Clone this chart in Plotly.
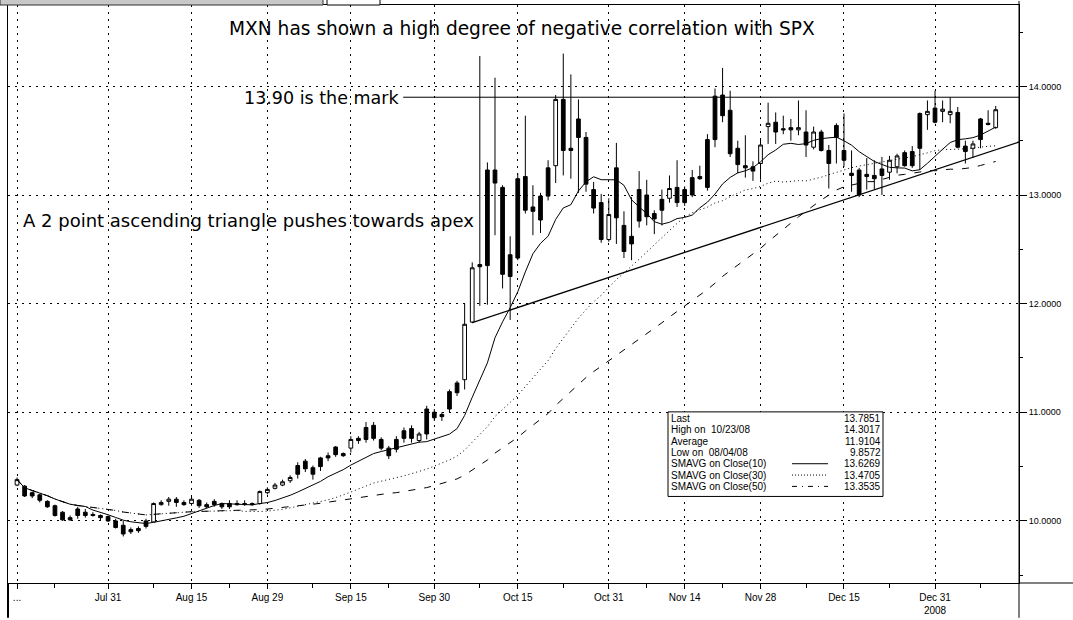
import plotly.graph_objects as go
import pandas as pd

# ---------------- data ----------------
dates = pd.bdate_range("2008-07-15", "2009-01-12")

opens = [
    10.33, 10.32, 10.26, 10.24, 10.18, 10.14, 10.08, 10.03, 10.11, 10.08,
    10.06, 10.05, 10.04, 10.00, 9.96, 9.92, 9.93, 10.00, 9.99, 10.15,
    10.18, 10.20, 10.17, 10.16, 10.19, 10.15, 10.18, 10.16, 10.16, 10.16,
    10.16, 10.16, 10.16, 10.26, 10.30, 10.33, 10.37, 10.51, 10.55, 10.49,
    10.58, 10.60, 10.68, 10.62, 10.67, 10.76, 10.86, 10.88, 10.75, 10.67,
    10.75, 10.83, 10.85, 10.74, 11.03, 11.00, 10.98, 11.19, 11.27, 11.30,
    11.83, 12.36, 13.23, 13.23, 13.07, 12.45, 13.15, 13.17, 12.89, 12.99,
    13.25, 13.27, 13.88, 13.43, 13.70, 13.53, 13.05, 12.93, 12.59, 13.25,
    12.72, 12.62, 13.05, 13.00, 12.83, 12.96, 12.97, 13.07, 13.05, 13.16,
    13.17, 13.51, 13.91, 13.92, 13.78, 13.43, 13.27, 13.26, 13.29, 13.63,
    13.67, 13.61, 13.62, 13.60, 13.58, 13.44, 13.58, 13.41, 13.64, 13.41,
    13.20, 13.23, 13.19, 13.18, 13.24, 13.21, 13.26, 13.39, 13.40, 13.75,
    13.74, 13.80, 13.77, 13.74, 13.76, 13.45, 13.43, 13.70, 13.66, 13.62,
]
highs = [
    10.40, 10.33, 10.27, 10.25, 10.19, 10.15, 10.09, 10.05, 10.13, 10.11,
    10.08, 10.06, 10.05, 10.02, 10.00, 9.94, 9.95, 10.02, 10.17, 10.19,
    10.22, 10.22, 10.19, 10.22, 10.20, 10.17, 10.20, 10.17, 10.19, 10.19,
    10.19, 10.17, 10.28, 10.31, 10.35, 10.38, 10.42, 10.54, 10.57, 10.51,
    10.59, 10.63, 10.69, 10.63, 10.78, 10.78, 10.91, 10.91, 10.77, 10.69,
    10.78, 10.86, 10.88, 10.82, 11.06, 11.03, 11.00, 11.21, 11.29, 12.00,
    12.38, 14.28, 13.30, 14.08, 13.09, 12.62, 13.20, 13.73, 13.09, 13.02,
    13.32, 13.92, 14.3017, 14.11, 13.88, 13.58, 13.12, 13.01, 12.97, 13.48,
    12.85, 12.98, 13.22, 13.14, 12.86, 13.05, 13.18, 13.32, 13.08, 13.23,
    13.27, 13.56, 13.98, 14.17, 13.96, 13.50, 13.55, 13.31, 13.52, 13.85,
    13.76, 13.73, 13.70, 13.87, 13.78, 13.63, 13.60, 13.46, 13.66, 13.75,
    13.41, 13.25, 13.34, 13.32, 13.35, 13.36, 13.38, 13.41, 13.45, 13.76,
    13.87, 13.96, 13.87, 13.90, 13.81, 13.50, 13.50, 13.71, 13.78, 13.82,
]
lows = [
    10.32, 10.22, 10.21, 10.17, 10.12, 10.04, 10.00, 10.00, 10.02, 10.03,
    10.04, 10.00, 9.99, 9.93, 9.8572, 9.88, 9.89, 9.93, 9.99, 10.14,
    10.14, 10.13, 10.14, 10.14, 10.12, 10.12, 10.13, 10.11, 10.11, 10.14,
    10.14, 10.14, 10.15, 10.245, 10.29, 10.32, 10.35, 10.39, 10.45, 10.38,
    10.46, 10.55, 10.59, 10.59, 10.63, 10.71, 10.72, 10.74, 10.65, 10.57,
    10.63, 10.72, 10.72, 10.72, 10.75, 10.92, 10.92, 11.00, 11.15, 11.21,
    11.82, 11.98, 11.99, 12.63, 12.14, 11.85, 12.40, 12.83, 12.63, 12.65,
    12.95, 13.11, 13.18, 13.15, 13.02, 13.03, 12.83, 12.56, 12.57, 12.55,
    12.42, 12.40, 12.70, 12.72, 12.64, 12.72, 12.93, 12.89, 12.90, 12.98,
    13.14, 13.04, 13.44, 13.67, 13.35, 13.20, 13.16, 13.13, 13.14, 13.47,
    13.47, 13.56, 13.50, 13.55, 13.35, 13.42, 13.40, 13.06, 13.29, 13.26,
    13.03, 12.98, 13.05, 13.05, 13.00, 13.14, 13.20, 13.26, 13.25, 13.23,
    13.60, 13.66, 13.67, 13.66, 13.43, 13.29, 13.34, 13.43, 13.64, 13.61,
]
closes = [
    10.38, 10.23, 10.23, 10.19, 10.13, 10.05, 10.01, 10.01, 10.05, 10.05,
    10.05, 10.03, 10.00, 9.94, 9.88, 9.90, 9.91, 9.95, 10.16, 10.17,
    10.20, 10.17, 10.15, 10.20, 10.14, 10.13, 10.15, 10.13, 10.13, 10.15,
    10.15, 10.15, 10.27, 10.29, 10.33, 10.36, 10.40, 10.43, 10.48, 10.43,
    10.50, 10.58, 10.61, 10.60, 10.75, 10.74, 10.75, 10.76, 10.67, 10.60,
    10.66, 10.76, 10.76, 10.80, 10.80, 10.95, 10.96, 11.03, 11.18, 11.81,
    12.33, 12.34, 12.35, 13.11, 12.27, 12.25, 12.42, 12.86, 12.85, 12.77,
    12.99, 13.88, 13.41, 13.41, 13.53, 13.10, 12.88, 12.59, 12.82, 12.79,
    12.48, 12.55, 12.76, 12.80, 12.78, 12.86, 13.06, 12.93, 12.93, 13.00,
    13.15, 13.07, 13.51, 13.73, 13.38, 13.28, 13.25, 13.22, 13.46, 13.66,
    13.58, 13.60, 13.60, 13.62, 13.46, 13.58, 13.41, 13.29, 13.53, 13.32,
    13.18, 13.00, 13.17, 13.15, 13.18, 13.32, 13.36, 13.27, 13.27, 13.43,
    13.77, 13.67, 13.79, 13.77, 13.44, 13.40, 13.47, 13.51, 13.65, 13.7851,
]

tick_dates = ["2008-07-15", "2008-07-31", "2008-08-15", "2008-08-29", "2008-09-15",
              "2008-09-30", "2008-10-15", "2008-10-31", "2008-11-14", "2008-11-28",
              "2008-12-15", "2008-12-31"]
tick_labels = ["...", "Jul 31", "Aug 15", "Aug 29", "Sep 15", "Sep 30", "Oct 15",
               "Oct 31", "Nov 14", "Nov 28", "Dec 15", "Dec 31<br>2008"]
minor_dates = ["2008-07-22", "2008-08-08", "2008-08-22", "2008-09-08", "2008-09-22",
               "2008-10-08", "2008-10-23", "2008-11-07", "2008-11-21", "2008-12-08",
               "2008-12-23", "2009-01-08"]

info_labels = ["Last", "High on  10/23/08", "Average", "Low on  08/04/08",
               "SMAVG on Close(10)", "SMAVG on Close(30)", "SMAVG on Close(50)"]
info_values = ["13.7851", "14.3017", "11.9104", "9.8572", "13.6269", "13.4705", "13.3535"]

resistance_level = 13.90
trend_start = ("2008-10-07", 11.826)
trend_end_value = 13.488

# ---------------- figure ----------------
date_strs = [d.strftime("%Y-%m-%d") for d in dates]
idx = {d: i for i, d in enumerate(date_strs)}
x = list(range(len(date_strs)))
s = pd.Series(closes)
sma10 = s.rolling(10, min_periods=1).mean()
sma30 = s.rolling(30, min_periods=1).mean()
sma50 = s.rolling(50, min_periods=1).mean()

X0, X1 = -1.19, 132.07
Y0, Y1 = 9.4286, 14.749

fig = go.Figure()
fig.add_trace(go.Candlestick(
    x=x, open=opens, high=highs, low=lows, close=closes,
    increasing=dict(line=dict(color="black", width=1), fillcolor="white"),
    decreasing=dict(line=dict(color="black", width=1), fillcolor="black"),
    whiskerwidth=0, hoverinfo="skip", showlegend=False))
fig.add_trace(go.Scatter(x=x, y=sma10, mode="lines",
                         line=dict(color="black", width=1), showlegend=False, hoverinfo="skip"))
fig.add_trace(go.Scatter(x=x, y=sma30, mode="lines",
                         line=dict(color="black", width=1, dash="1px,3px"), showlegend=False, hoverinfo="skip"))
fig.add_trace(go.Scatter(x=x, y=sma50, mode="lines",
                         line=dict(color="black", width=1, dash="7px,9px"), showlegend=False, hoverinfo="skip"))

W, H = 1073, 620
L, R, T, B = 8, 54, 4, 35
PW, PH = W - L - R, H - T - B


def px(xp):
    return (xp - L) / PW


def py(yp):
    return (H - B - yp) / PH


shapes = []
# resistance and trend lines
shapes.append(dict(type="line", xref="x", yref="y", x0=50.9, x1=X1, y0=resistance_level,
                   y1=resistance_level, line=dict(color="black", width=1)))
shapes.append(dict(type="line", xref="x", yref="y", x0=idx[trend_start[0]], y0=trend_start[1],
                   x1=X1, y1=trend_end_value, line=dict(color="black", width=1.3)))
# info box
shapes.append(dict(type="rect", xref="paper", yref="paper", x0=px(668), x1=px(883),
                   y0=py(498), y1=py(413), fillcolor="white", line=dict(color="black", width=1),
                   layer="above"))
row_y = [419.5, 430.9, 442.3, 453.7, 465.1, 476.5, 487.9]
for yy, dash in zip(row_y[4:], ["solid", "1px,2px", "5px,5px,1px,5px"]):
    shapes.append(dict(type="line", xref="paper", yref="paper", x0=px(792), x1=px(828),
                       y0=py(yy), y1=py(yy), line=dict(color="black", width=1, dash=dash),
                       layer="above"))
# frame extensions and top strip
shapes.append(dict(type="line", xref="paper", yref="paper", x0=1, x1=px(1073), y0=0, y1=0,
                   line=dict(color="black", width=1)))
shapes.append(dict(type="line", xref="paper", yref="paper", x0=0, x1=0, y0=py(620), y1=0,
                   line=dict(color="black", width=2)))
shapes.append(dict(type="line", xref="paper", yref="paper", x0=1, x1=1, y0=py(620), y1=py(0),
                   line=dict(color="black", width=1)))
shapes.append(dict(type="rect", xref="paper", yref="paper", x0=px(0), x1=px(323), y0=py(4), y1=py(-2),
                   fillcolor="#c8c8c8", line=dict(color="#303030", width=1)))
shapes.append(dict(type="rect", xref="paper", yref="paper", x0=px(327), x1=px(380), y0=py(4), y1=py(-2),
                   fillcolor="white", line=dict(color="black", width=1)))

annotations = []


def big(size):
    return dict(family="DejaVu Sans", size=size, color="black")


annotations.append(dict(xref="paper", yref="paper", x=px(522), y=py(28), xanchor="center",
                        yanchor="middle", showarrow=False, borderpad=0, font=big(18.6),
                        text="MXN has shown a high degree of negative correlation with SPX"))
annotations.append(dict(xref="paper", yref="paper", x=px(400), y=py(97), xanchor="right",
                        yanchor="middle", showarrow=False, borderpad=0, font=big(17.5),
                        text="13.90 is the mark"))
annotations.append(dict(xref="paper", yref="paper", x=px(22), y=py(221), xanchor="left",
                        yanchor="middle", showarrow=False, borderpad=0, font=big(18),
                        text="A 2 point ascending triangle pushes towards apex"))
small = dict(family="Liberation Sans", size=10, color="black")
for yy, lab, val in zip(row_y, info_labels, info_values):
    annotations.append(dict(xref="paper", yref="paper", x=px(670), y=py(yy), xanchor="left",
                            yanchor="middle", showarrow=False, borderpad=0,
                            font=small, text=lab))
    annotations.append(dict(xref="paper", yref="paper", x=px(882), y=py(yy), xanchor="right",
                            yanchor="middle", showarrow=False, borderpad=0,
                            font=small, text=val))

grid = dict(showgrid=True, gridcolor="black", gridwidth=1, griddash="2px,5px")
fig.update_layout(
    width=W, height=H, autosize=False,
    margin=dict(l=L, r=R, t=T, b=B, pad=0),
    paper_bgcolor="white", plot_bgcolor="white",
    font=dict(family="Liberation Sans", color="black"),
    showlegend=False, hovermode=False,
    shapes=shapes, annotations=annotations,
    xaxis=dict(range=[X0, X1], tickmode="array", tickvals=[idx[d] for d in tick_dates],
               ticktext=tick_labels, ticks="outside", ticklen=5, tickcolor="black",
               tickfont=dict(size=10, family="Liberation Sans"),
               showline=True, linecolor="black", linewidth=1, mirror=True, zeroline=False,
               rangeslider=dict(visible=False),
               minor=dict(tickmode="array", tickvals=[idx[d] for d in minor_dates],
                          ticks="outside", ticklen=4, tickcolor="black", showgrid=False),
               **grid),
    yaxis=dict(range=[Y0, Y1], side="right", tick0=0, dtick=1, tickformat=".4f",
               ticks="outside", ticklen=7, tickcolor="black",
               tickfont=dict(size=9, family="Liberation Sans"),
               showline=True, linecolor="black", linewidth=1, mirror=True, zeroline=False,
               minor=dict(dtick=0.5, ticks="outside", ticklen=3, tickcolor="black", showgrid=False),
               **grid),
)

fig.write_html("out.html", config={"displayModeBar": False},
               post_script="document.body.style.margin='0';")
